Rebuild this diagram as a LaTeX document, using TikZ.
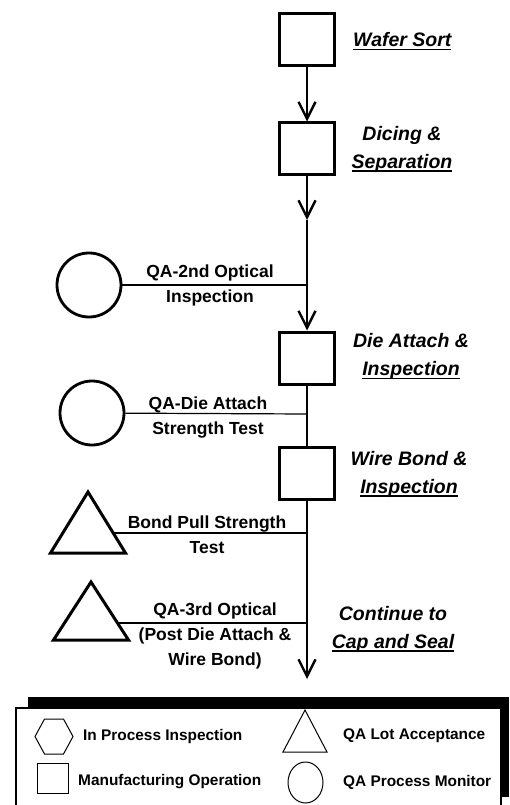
\documentclass[tikz,border=0pt]{standalone}
\usepackage{fontspec}
\setmainfont{Liberation Sans}
\newcommand\ulx[1]{\setbox0\hbox{#1}\leavevmode\rlap{\rule[-3.8pt]{\wd0}{1.4pt}}\box0}
\usetikzlibrary{arrows.meta,shapes.geometric}
\tikzset{
  opbox/.style={draw, line width=3pt, minimum width=55pt, minimum height=52pt, inner sep=0pt},
  qacirc/.style={draw, circle, line width=2.8pt, minimum size=64pt, inner sep=0pt},
  qatri/.style={line width=3pt, line join=miter},
  flowline/.style={line width=1.6pt, -{Straight Barb[length=17pt,width=17pt,line width=2.4pt]}},
  plainline/.style={line width=1.6pt},
  sideline/.style={line width=1.2pt},
  flowlab/.style={font=\fontsize{19.5}{28}\selectfont\bfseries\itshape, align=center, inner sep=0pt},
  sidelab/.style={font=\fontsize{17.5}{25}\selectfont\bfseries, align=center, inner sep=0pt},
  leglab/.style={font=\fontsize{15.4}{18}\selectfont\bfseries, anchor=west, inner sep=0pt},
  legshape/.style={draw, line width=1pt, inner sep=0pt},
}
\begin{document}
\begin{tikzpicture}[x=1pt, y=-1pt]
\useasboundingbox (0,0) rectangle (510,805);
\clip (0,0) rectangle (510,805);
\fill[white] (0,0) rectangle (510,805);

% manufacturing operations
\node[opbox] (ws) at (307,39.5) {};
\node[opbox] (dc) at (307,149) {};
\node[opbox] (da) at (307,358) {};
\node[opbox] (wb) at (307,473.5) {};

% flow labels
\node[flowlab, anchor=west] (lws) at (353,41) {\ulx{Wafer Sort}};
\node[flowlab] (ldc) at (402,149) {Dicing \&\\\ulx{Separation}};
\node[flowlab] (lda) at (411,356.5) {Die Attach \&\\\ulx{Inspection}};
\node[flowlab] (lwb) at (409,474) {Wire Bond \&\\\ulx{Inspection}};
\node[flowlab] (lct) at (393,629) {Continue to\\\ulx{Cap and Seal}};

% junction coordinates
\coordinate (m1) at (307,220);
\coordinate (j1) at (307,285);
\coordinate (j2) at (307,414);
\coordinate (j3) at (307,533);
\coordinate (j4) at (307,623);
\coordinate (e1) at (307,679);

% main flow
\draw[flowline] (ws.south) -- (dc.north);
\draw[flowline] (dc.south) -- (m1);
\draw[flowline] (m1) -- (da.north);
\draw[plainline] (da.south) -- (wb.north);
\draw[flowline] (wb.south) -- (e1);

% QA process monitors
\node[qacirc] (c1) at (89,285) {};
\node[qacirc] (c2) at (92,413) {};
\draw[sideline] (c1) -- (j1);
\draw[sideline] (c2) -- (j2);

% QA lot acceptance triangles
\draw[qatri] (88,492) coordinate (t1a) -- (125.5,553) -- (50.5,553) -- cycle;
\coordinate (t1r) at (113,533);
\draw[qatri] (91,582) coordinate (t2a) -- (128.5,640) -- (53.5,640) -- cycle;
\coordinate (t2r) at (118,623);
\draw[sideline] (t1r) -- (j3);
\draw[sideline] (t2r) -- (j4);

% side labels
\node[sidelab] (s1) at (210,285.5) {QA-2nd Optical\\Inspection};
\node[sidelab] (s2) at (208,417.5) {QA-Die Attach\\Strength Test};
\node[sidelab] (s3) at (207,534.5) {Bond Pull Strength\\Test};
\node[sidelab] (s4) at (215,635.5) {QA-3rd Optical\\(Post Die Attach \&\\Wire Bond)};

% legend
\fill[black] (28,697) rectangle (509,797);
\draw[fill=white, line width=1.2pt] (16,708) rectangle (501,840);
\draw[legshape] (35,736.5) -- (44.5,719) -- (63.5,719) -- (73,736.5) -- (63.5,754) -- (44.5,754) -- cycle;
\node[leglab] (g1) at (83,737) {In Process Inspection};
\draw[legshape] (305,710) -- (327,752) -- (283,752) -- cycle;
\node[leglab] (g2) at (343,736) {QA Lot Acceptance};
\draw[legshape] (37,763) rectangle (68,793);
\node[leglab] (g3) at (78,782) {Manufacturing Operation};
\draw[legshape] (305.5,782.5) ellipse [x radius=17.5, y radius=20.5];
\node[leglab] (g4) at (343,782) {QA Process Monitor};
\end{tikzpicture}
\end{document}
